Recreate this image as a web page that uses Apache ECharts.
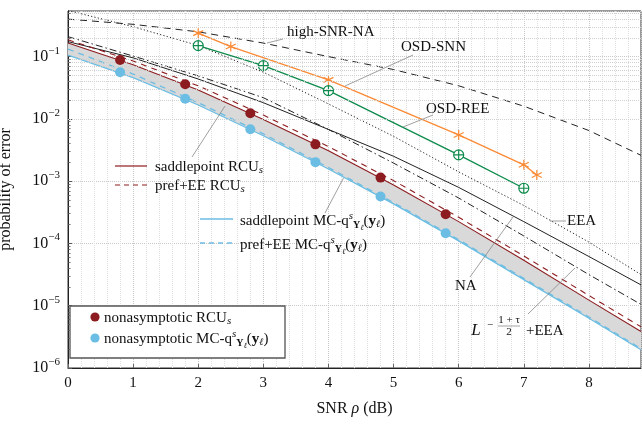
<!DOCTYPE html>
<html>
<head>
<meta charset="utf-8">
<title>error probability vs SNR</title>
<script src="https://cdn.jsdelivr.net/npm/echarts/dist/echarts.min.js"></script>
<style>
  html, body { margin: 0; padding: 0; background: #fff; }
  #chart { width: 642px; height: 433px; }
</style>
</head>
<body>
<div id="chart"></div>
<script>
// ---- data ----
var xs = [0, 1, 2, 3, 4, 5, 6, 7, 8, 8.8];
var highSnrNA = [0.40, 0.33, 0.25, 0.165, 0.10, 0.062, 0.034, 0.016, 0.0065, 0.0026];
var eea       = [0.55, 0.302, 0.151, 0.0562, 0.0174, 0.00525, 0.00141, 4.07e-4, 1.05e-4, 3.16e-5];
var na        = [0.174, 0.0955, 0.0437, 0.0182, 0.00676, 0.00251, 7.94e-4, 2.24e-4, 6.17e-5, 2.16e-5];
var lEea      = [0.209, 0.102, 0.049, 0.0219, 0.00676, 0.00195, 5.37e-4, 1.32e-4, 3.16e-5, 1.05e-5];
var rcuSaddle = [0.166, 0.074, 0.0291, 0.00982, 0.00307, 8.71e-4, 2.24e-4, 5.37e-5, 1.23e-5, 3.85e-6];
var rcuPref   = [0.186, 0.0851, 0.0339, 0.0115, 0.00359, 1.02e-3, 2.63e-4, 6.3e-5, 1.46e-5, 4.58e-6];
var mcSaddle  = [0.106, 0.0461, 0.0167, 0.00536, 0.00157, 4.32e-4, 1.10e-4, 2.63e-5, 6.3e-6, 1.96e-6];
var mcPref    = [0.132, 0.0525, 0.0182, 0.00575, 0.00166, 4.52e-4, 1.15e-4, 2.75e-5, 6.6e-6, 2.04e-6];

var markerX   = [0.8, 1.8, 2.8, 3.8, 4.8, 5.8];
var rcuNonasy = [0.0885, 0.036, 0.0123, 0.0039, 0.00114, 2.95e-4];
var mcNonasy  = [0.056, 0.021, 0.0068, 0.00202, 5.66e-4, 1.46e-4];

var osdSnnX = [2, 2.5, 4, 6, 7, 7.2];
var osdSnn  = [0.238, 0.145, 0.0423, 0.00553, 0.00183, 0.00126];
var osdReeX = [2, 3, 4, 6, 7];
var osdRee  = [0.150, 0.0717, 0.0284, 0.00264, 7.7e-4];

var yTicks = [1e-6, 1e-5, 1e-4, 1e-3, 1e-2, 1e-1];
var xTicks = [0, 1, 2, 3, 4, 5, 6, 7, 8];

// minor log grid (2..9 x decade)
var minorY = [];
yTicks.forEach(function (d) {
  for (var m = 2; m <= 9; m++) { if (m * d <= 0.54) minorY.push(m * d); }
});

var F = '"Liberation Serif", "DejaVu Serif", serif';
var RED = '#8c1c1f', BLUE = '#6bbde3', ORANGE = '#fb8a35', GREEN = '#0e8b4c', BLK = '#222';

function pts(xa, ya) { return xa.map(function (x, i) { return [x, ya[i]]; }); }
function curve(data, color, dash, width, z) {
  return {
    type: 'line', data: data, symbol: 'none', smooth: false, silent: true,
    lineStyle: { color: color, width: width || 1, type: dash || 'solid' }, z: z || 3
  };
}

// shaded band between saddlepoint RCU and saddlepoint MC
function renderBand(params, api) {
  var top = xs.map(function (x, i) { return api.coord([x, rcuSaddle[i]]); });
  var bot = xs.map(function (x, i) { return api.coord([x, mcSaddle[i]]); }).reverse();
  return { type: 'polygon', shape: { points: top.concat(bot) }, style: { fill: '#d9d9d9' } };
}

var STAR = 'path://M5,0L5,10M0.67,2.5L9.33,7.5M0.67,7.5L9.33,2.5';
var OPLUS = 'path://M10,5A5,5,0,1,1,0,5A5,5,0,1,1,10,5ZM0,5L10,5M5,0L5,10';

var series = [
  { type: 'custom', renderItem: renderBand, data: [[xs[0], rcuSaddle[0]]], silent: true, z: 1,
    encode: { x: 0, y: 1 } },
  // grid helpers
  { type: 'line', data: [], silent: true,
    markLine: { symbol: 'none', silent: true, label: { show: false }, animation: false,
      lineStyle: { type: 'dotted', color: '#d0d0d0', width: 1 },
      data: minorY.map(function (v) { return { yAxis: v }; }) } },
  { type: 'line', data: [], silent: true,
    markLine: { symbol: 'none', silent: true, label: { show: false }, animation: false,
      lineStyle: { type: 'solid', color: '#555', width: 0.8 },
      data: minorY.map(function (v) { return [{ coord: [0, v] }, { coord: [0.04, v] }]; }) } },
  curve(pts(xs, highSnrNA), BLK, [7, 5]),
  curve(pts(xs, eea), BLK, [1.2, 2.2]),
  curve(pts(xs, na), BLK, 'solid'),
  curve(pts(xs, lEea), BLK, [7, 3, 1.5, 3]),
  curve(pts(xs, rcuPref), RED, [6, 5], 1.1),
  curve(pts(xs, rcuSaddle), RED, 'solid', 1.1),
  curve(pts(xs, mcPref), BLUE, [6, 5], 1.3),
  curve(pts(xs, mcSaddle), BLUE, 'solid', 1.3),
  { type: 'line', data: pts(osdSnnX, osdSnn), symbol: STAR, symbolSize: 10, silent: true, z: 4,
    lineStyle: { color: ORANGE, width: 1.3 },
    itemStyle: { color: ORANGE, borderColor: ORANGE, borderWidth: 1.2 } },
  { type: 'line', data: pts(osdReeX, osdRee), symbol: OPLUS, symbolSize: 10, silent: true, z: 4,
    lineStyle: { color: GREEN, width: 1.3 },
    itemStyle: { color: '#fff', borderColor: GREEN, borderWidth: 1.2 } },
  { type: 'scatter', data: pts(markerX, rcuNonasy), symbol: 'circle', symbolSize: 10, silent: true, z: 5,
    itemStyle: { color: RED, opacity: 1 } },
  { type: 'scatter', data: pts(markerX, mcNonasy), symbol: 'circle', symbolSize: 10, silent: true, z: 5,
    itemStyle: { color: BLUE, opacity: 1 } }
];

// ---- rich text pieces ----
var rich = {
  t:  { fontFamily: F, fontSize: 15, color: '#111' },
  i:  { fontFamily: F, fontSize: 11, fontStyle: 'italic', color: '#111', padding: [7, 0, 0, 0] },
  sp: { fontFamily: F, fontSize: 11, fontStyle: 'italic', color: '#111', padding: [0, 0, 9, 0] },
  Y:  { fontFamily: F, fontSize: 10, fontWeight: 'bold', color: '#111', padding: [9, 0, 0, 0] },
  l:  { fontFamily: F, fontSize: 8, fontStyle: 'italic', color: '#111', padding: [13, 0, 0, 0] },
  y:  { fontFamily: F, fontSize: 15, fontWeight: 'bold', color: '#111' },
  li: { fontFamily: F, fontSize: 10, fontStyle: 'italic', color: '#111', padding: [7, 0, 0, 0] }
};
var qTail = '{sp|s}{Y|Y}{l|ℓ}{t|(}{y|y}{li|ℓ}{t|)}';

function txt(x, y, text, size) {
  return { type: 'text', x: x, y: y, z: 120, silent: true,
    style: { text: text, rich: rich, font: (size || 15) + 'px ' + F, fill: '#111',
      textAlign: 'left', textVerticalAlign: 'middle', align: 'left', verticalAlign: 'middle' } };
}
function seg(x1, y1, x2, y2, color, w, dash) {
  return { type: 'line', z: 110, silent: true, shape: { x1: x1, y1: y1, x2: x2, y2: y2 },
    style: { stroke: color, lineWidth: w, lineDash: dash || null } };
}
function small(x, y, s, size, italic) {
  return { type: 'text', x: x, y: y, z: 120, silent: true,
    style: { text: s, font: (italic ? 'italic ' : '') + size + 'px ' + F, fill: '#111',
      textAlign: 'center', align: 'center', textVerticalAlign: 'middle', verticalAlign: 'middle' } };
}

var graphics = [
  // leaders
  seg(267, 43, 283, 39, '#888', 0.8),
  seg(413, 55, 345, 86, '#888', 0.8),
  seg(433, 115, 403, 127, '#888', 0.8),
  seg(550, 221, 566, 221, '#888', 0.8),
  seg(470, 277, 513, 217, '#888', 0.8),
  seg(528, 314, 575, 268, '#888', 0.8),
  seg(192, 157, 225, 106, '#888', 0.8),
  seg(325, 213, 343.5, 178, '#888', 0.8),
  // annotation text
  txt(287, 32, '{t|high-SNR-NA}', 15),
  txt(401, 47, '{t|OSD-SNN}', 15),
  txt(426, 109, '{t|OSD-REE}', 15),
  txt(567, 221, '{t|EEA}', 15),
  txt(455, 286, '{t|NA}', 15),
  small(476, 331, 'L', 17, true),
  small(490, 325, '−', 11),
  small(509, 320, '1 + τ', 11),
  seg(498, 326, 520, 326, '#444', 0.5),
  small(509, 332, '2', 11),
  txt(526, 331, '{t|+EEA}', 15),
  // in-plot legend entries
  seg(115, 166, 147, 166, RED, 1.2),
  txt(155, 167, '{t|saddlepoint RCU}{i|s}'),
  seg(115, 185, 147, 185, RED, 1.2, [5, 4]),
  txt(155, 186, '{t|pref+EE RCU}{i|s}'),
  seg(200, 219, 233, 219, BLUE, 1.3),
  txt(240, 221, '{t|saddlepoint MC-q}' + qTail),
  seg(200, 243, 233, 243, BLUE, 1.3, [5, 4]),
  txt(240, 245, '{t|pref+EE MC-q}' + qTail),
  // boxed legend
  { type: 'rect', z: 100, silent: true, shape: { x: 70, y: 306, width: 215, height: 52 },
    style: { fill: '#fff', stroke: '#555', lineWidth: 1.3 } },
  { type: 'circle', z: 115, silent: true, shape: { cx: 95, cy: 317, r: 4.6 }, style: { fill: RED } },
  { type: 'circle', z: 115, silent: true, shape: { cx: 95, cy: 338, r: 4.6 }, style: { fill: BLUE } },
  txt(104, 318, '{t|nonasymptotic RCU}{i|s}'),
  txt(104, 339, '{t|nonasymptotic MC-q}' + qTail)
];

var chart = echarts.init(document.getElementById('chart'), null, { renderer: 'canvas' });
chart.setOption({
  animation: false,
  backgroundColor: '#fff',
  grid: { left: 68, right: 1, top: 11, bottom: 65, show: true, borderColor: '#333', borderWidth: 1,
    backgroundColor: 'transparent', containLabel: false, outerBoundsMode: 'none' },
  xAxis: {
    type: 'value', min: 0, max: 8.8, interval: 1,
    name: 'SNR {i|ρ} (dB)', nameLocation: 'middle', nameGap: 33,
    nameTextStyle: { fontFamily: F, fontSize: 16, color: '#111',
      rich: { i: { fontFamily: F, fontSize: 16, fontStyle: 'italic', color: '#111' } } },
    axisLine: { show: true, onZero: false, lineStyle: { color: '#222', width: 1 } },
    axisTick: { show: true, inside: true, length: 4, lineStyle: { color: '#666' } },
    axisLabel: { fontFamily: F, fontSize: 15, color: '#111', margin: 8, showMaxLabel: false,
      formatter: function (v) { return xTicks.indexOf(v) >= 0 ? String(v) : ''; } },
    splitLine: { show: true, lineStyle: { type: 'dotted', color: '#c8c8c8' } },
    minorTick: { show: false, splitNumber: 5 },
    minorSplitLine: { show: true, lineStyle: { type: 'dotted', color: '#e0e0e0' } }
  },
  yAxis: {
    type: 'log', logBase: 10, min: 1e-6, max: 0.54,
    name: 'probability of error', nameLocation: 'middle', nameGap: 54,
    nameTextStyle: { fontFamily: F, fontSize: 16, color: '#111' },
    axisLine: { show: true, onZero: false, lineStyle: { color: '#222', width: 1 } },
    axisTick: { show: true, inside: true, length: 4, lineStyle: { color: '#555' } },
    axisLabel: {
      margin: 8, showMaxLabel: false,
      formatter: function (v) {
        var e = Math.log10(v), r = Math.round(e);
        if (Math.abs(e - r) > 0.01) return '';
        return '{b|10}{s|−' + (-r) + '}';
      },
      rich: {
        b: { fontFamily: F, fontSize: 16, color: '#111' },
        s: { fontFamily: F, fontSize: 11, color: '#111', padding: [0, 0, 12, 0] }
      }
    },
    splitLine: { show: true, lineStyle: { type: 'dotted', color: '#c8c8c8' } }
  },
  series: series,
  graphic: graphics
});
</script>
</body>
</html>
